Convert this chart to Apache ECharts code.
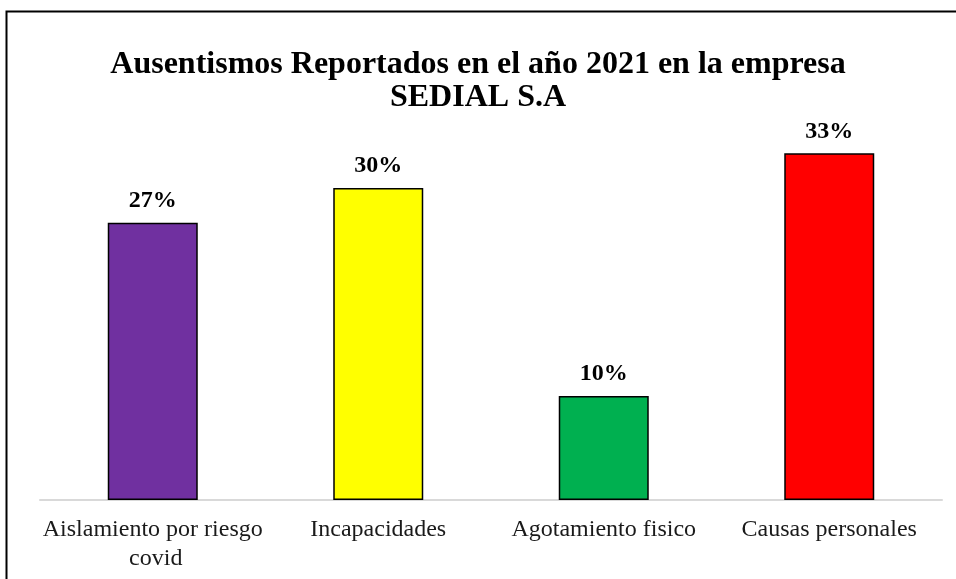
<!DOCTYPE html>
<html lang="es">
<head>
    <meta charset="UTF-8">
    <title>Ausentismos 2021</title>
    <style>
        html, body { margin: 0; padding: 0; background: #fff; }
    </style>
</head>
<body>
<div id="main" style="width: 956px;height: 579px"></div>
<script src="https://cdn.jsdelivr.net/npm/echarts@6/dist/echarts.min.js"></script>
<script>
    // datos (altura de barras; etiquetas redondeadas)
    var categorias = ['Aislamiento por riesgo covid', 'Incapacidades', 'Agotamiento fisico', 'Causas personales'];
    var porcentajes = [26.67, 30, 10, 33.33];
    var colores = ['#7030a0', '#ffff00', '#00b050', '#ff0000'];

    var serif = '"Liberation Serif", "Times New Roman", serif';

    var myChart = echarts.init(document.getElementById('main'));

    var datos = [];
    for (var i = 0; i < porcentajes.length; i++) {
        datos.push({
            value: porcentajes[i],
            itemStyle: {color: colores[i]}
        });
    }

    var option = {
        animation: false,
        title: {
            text: 'Ausentismos Reportados en el año 2021 en la empresa\nSEDIAL S.A',
            left: 'center',
            top: 43,
            textStyle: {
                fontFamily: serif,
                fontWeight: 'bold',
                fontSize: 32,
                lineHeight: 33,
                color: '#000'
            }
        },
        graphic: [
            {
                type: 'rect',
                shape: {x: 6.5, y: 11.5, width: 960, height: 600},
                style: {fill: 'none', stroke: '#000', lineWidth: 2}
            }
        ],
        grid: {
            left: 40,
            right: 14,
            top: 136,
            bottom: 79
        },
        xAxis: {
            type: 'category',
            data: categorias,
            axisTick: {show: false},
            axisLine: {lineStyle: {color: '#d9d9d9', width: 2}},
            axisLabel: {
                fontFamily: serif,
                fontSize: 24,
                lineHeight: 29,
                color: '#1a1a1a',
                margin: 15,
                width: 224,
                overflow: 'break',
                interval: 0
            }
        },
        yAxis: {
            type: 'value',
            min: 0,
            max: 35,
            show: false,
            splitLine: {show: false}
        },
        series: [
            {
                type: 'bar',
                data: datos,
                barWidth: 90,
                itemStyle: {borderColor: '#000', borderWidth: 1.5},
                label: {
                    show: true,
                    position: 'top',
                    distance: 10,
                    formatter: function (p) {
                        return Math.round(p.value) + '%';
                    },
                    fontFamily: serif,
                    fontWeight: 'bold',
                    fontSize: 24,
                    color: '#000'
                }
            }
        ]
    };

    myChart.setOption(option);
</script>
</body>
</html>
